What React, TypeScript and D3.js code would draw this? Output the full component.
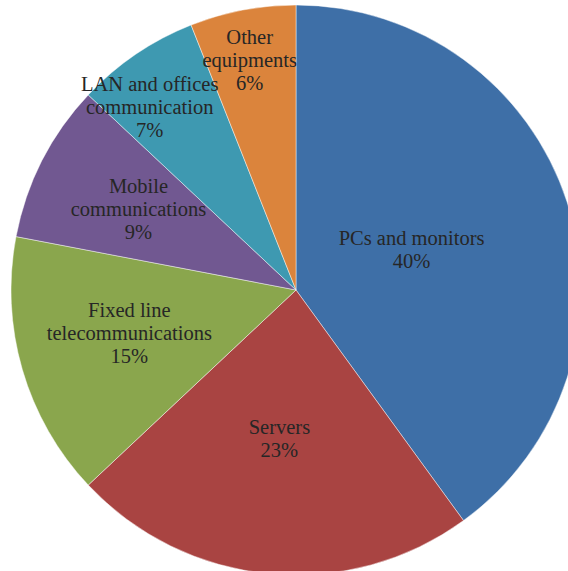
import React from "react";
import * as d3 from "d3";

const categories = [
  "PCs and monitors",
  "Servers",
  "Fixed line telecommunications",
  "Mobile communications",
  "LAN and offices communication",
  "Other equipments",
];
const values = [40, 23, 15, 9, 7, 6];
const labelLines = [
  ["PCs and monitors"],
  ["Servers"],
  ["Fixed line", "telecommunications"],
  ["Mobile", "communications"],
  ["LAN and offices", "communication"],
  ["Other", "equipments"],
];
const colors = ["#3E6FA7", "#A94442", "#8AA64D", "#715891", "#3E99B1", "#DB843C"];

// label layout: radius fraction and angular nudge (degrees)
const labelRadius = [0.43, 0.523, 0.604, 0.622, 0.821, 0.822];
const labelNudge = [-1.4, 1.0, 1.7, 0.3, -4.5, -0.6];

const W = 568;
const H = 571;
const CX = 296;
const CY = 290;
const R = 285;
const LINE = 23;

export default function App() {
  const pie = d3
    .pie<number>()
    .sort(null)
    .value((d) => d)
    .startAngle(0)
    .endAngle(2 * Math.PI);
  const arcs = pie(values);
  const arc = d3.arc<d3.PieArcDatum<number>>().innerRadius(0).outerRadius(R);
  const total = d3.sum(values);

  const labels: { x: number; y: number; t: string; k: string }[] = [];
  arcs.forEach((a, i) => {
    const mid = (a.startAngle + a.endAngle) / 2 + (labelNudge[i] * Math.PI) / 180;
    const rr = labelRadius[i] * R;
    const x = Math.sin(mid) * rr;
    const y = -Math.cos(mid) * rr;
    const lines = [...labelLines[i], `${Math.round((values[i] / total) * 100)}%`];
    const n = lines.length;
    const b1 = y - ((n - 1) * LINE) / 2 + 7;
    lines.forEach((t, j) => labels.push({ x, y: b1 + j * LINE, t, k: `${i}-${j}` }));
  });

  return (
    <svg
      width={W}
      height={H}
      style={{ position: "fixed", left: 0, top: 0, background: "#fff" }}
    >
      <g transform={`translate(${CX},${CY})`}>
        {arcs.map((a, i) => (
          <path
            key={categories[i]}
            d={arc(a) || ""}
            fill={colors[i]}
            stroke="#ffffff"
            strokeOpacity={0.6}
            strokeWidth={0.75}
          />
        ))}
        {labels.map((l) => (
          <text
            key={l.k}
            x={l.x}
            y={l.y}
            textAnchor="middle"
            fontFamily="Liberation Serif"
            fontSize={20.5}
            fill="#262626"
          >
            {l.t}
          </text>
        ))}
      </g>
    </svg>
  );
}
